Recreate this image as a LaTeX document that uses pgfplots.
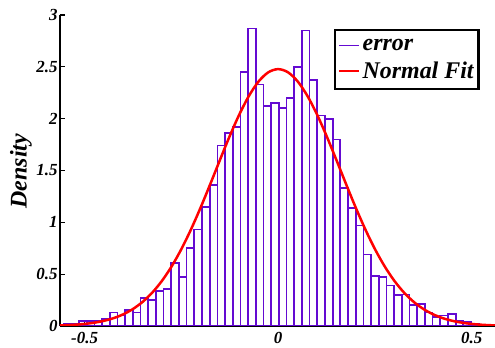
\documentclass[border=0pt]{standalone}
\usepackage{pgfplots}
\pgfplotsset{compat=1.18}
\usepackage{fontspec}
\setmainfont{Liberation Serif}
\definecolor{barc}{RGB}{100,10,210}
\begin{document}
\begin{tikzpicture}
\begin{axis}[
 scale only axis, width=435bp, height=311bp,
 xmin=-0.5636, xmax=0.5602, ymin=0, ymax=3,
 axis lines=left, axis line style={-, line width=1.8bp, black},
 xtick={-0.5,0,0.5}, xticklabels={-0.5,0,0.5},
 ytick={0,0.5,1,1.5,2,2.5,3}, yticklabels={0,0.5,1,1.5,2,2.5,3},
 tick align=inside, major tick length=5bp, tick style={black, line width=1.2bp},
 ticklabel style={font=\fontsize{17}{17}\selectfont\bfseries\itshape},
 yticklabel style={xshift=1bp},
 xticklabel style={yshift=-3bp},
 ylabel={Density},
 ylabel style={font=\fontsize{24}{24}\selectfont\bfseries\itshape, at={(axis description cs:-0.090,0.498)}, anchor=center},
 legend style={at={(axis description cs:0.63,0.955)}, anchor=north west, draw=black, line width=2.2bp,
   font=\fontsize{24}{24}\selectfont\bfseries\itshape, cells={anchor=west}, inner xsep=3bp, inner ysep=7bp, row sep=6bp},
 legend cell align=left,
]
\addplot[ybar, bar width=0.019855, bar shift=0pt, draw=barc, fill=none, line width=1.7bp,
  legend image code/.code={\draw[barc, line width=1.2bp] (0bp,0bp) -- (20bp,0bp);}]
coordinates {
(-0.5640,0.015) (-0.5442,0.02) (-0.5243,0.025) (-0.5045,0.045) (-0.4846,0.05)
(-0.4648,0.05) (-0.4449,0.07) (-0.4251,0.13) (-0.4052,0.10) (-0.3853,0.155)
(-0.3655,0.13) (-0.3456,0.27) (-0.3258,0.25) (-0.3059,0.335) (-0.2861,0.355)
(-0.2662,0.61) (-0.2464,0.47) (-0.2265,0.75) (-0.2066,0.93) (-0.1868,1.15)
(-0.1669,1.36) (-0.1471,1.74) (-0.1272,1.86) (-0.1074,1.92) (-0.0875,2.45)
(-0.0677,2.87) (-0.0478,2.33) (-0.0280,2.12) (-0.0081,2.15) (0.0117,2.10)
(0.0316,2.20) (0.0515,2.50) (0.0713,2.85) (0.0912,2.37) (0.1110,2.03)
(0.1309,2.00) (0.1507,1.80) (0.1706,1.33) (0.1904,1.14) (0.2103,0.97)
(0.2302,0.69) (0.2500,0.485) (0.2699,0.47) (0.2897,0.39) (0.3096,0.30)
(0.3294,0.305) (0.3493,0.205) (0.3691,0.21) (0.3890,0.13) (0.4088,0.085)
(0.4287,0.10) (0.4486,0.115) (0.4684,0.05) (0.4883,0.04) (0.5081,0.025)
(0.5280,0.015) (0.5478,0.01)
};
\addlegendentry{error}
\addplot[red, line width=2.5bp, smooth,
  legend image code/.code={\draw[red, line width=2.5bp] (0bp,0bp) -- (20bp,0bp);}]
coordinates {
(-0.575,0.0042) (-0.55,0.0072) (-0.525,0.0122) (-0.5,0.0199) (-0.475,0.0319)
(-0.45,0.0499) (-0.425,0.0760) (-0.4,0.1132) (-0.375,0.1644) (-0.35,0.2333)
(-0.325,0.3230) (-0.3,0.4366) (-0.275,0.5762) (-0.25,0.7422) (-0.225,0.9333)
(-0.2,1.1455) (-0.175,1.3727) (-0.15,1.6056) (-0.125,1.8334) (-0.1,2.0433)
(-0.075,2.2232) (-0.05,2.3613) (-0.025,2.4483) (0,2.478) (0.025,2.4483)
(0.05,2.3613) (0.075,2.2232) (0.1,2.0433) (0.125,1.8334) (0.15,1.6056)
(0.175,1.3727) (0.2,1.1455) (0.225,0.9333) (0.25,0.7422) (0.275,0.5762)
(0.3,0.4366) (0.325,0.3230) (0.35,0.2333) (0.375,0.1644) (0.4,0.1132)
(0.425,0.0760) (0.45,0.0499) (0.475,0.0319) (0.5,0.0199) (0.525,0.0122)
(0.55,0.0072) (0.575,0.0042)
};
\addlegendentry{Normal Fit\hspace{16bp}}
\coordinate (bl) at (rel axis cs:0,0);
\coordinate (tr) at (rel axis cs:1,1);
\end{axis}
\pgfresetboundingbox
\path ([xshift=-60bp,yshift=-22bp]bl) rectangle ([yshift=15bp]tr);
\end{tikzpicture}
\end{document}
